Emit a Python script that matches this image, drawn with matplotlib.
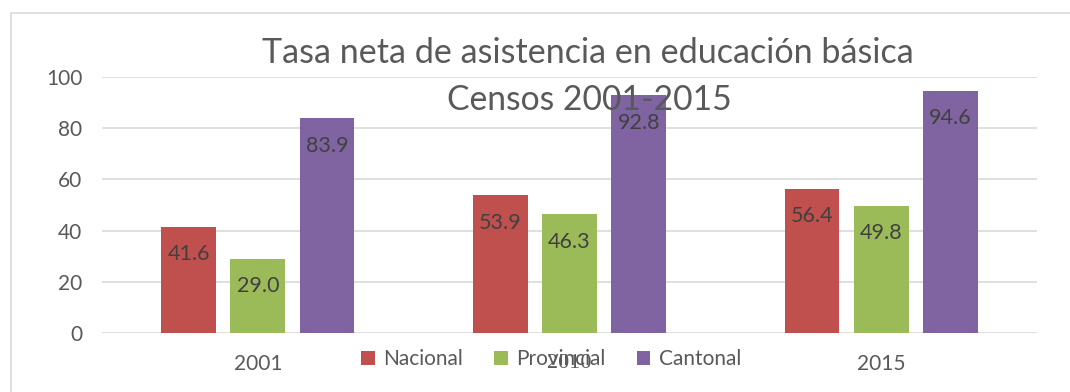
import matplotlib.pyplot as plt
import numpy as np
from matplotlib.patches import Rectangle

# census years and attendance rates per level
years = ['2001', '2010', '2015']
nacional = [41.6, 53.9, 56.4]
provincial = [29.0, 46.3, 49.8]
cantonal = [83.9, 92.8, 94.6]

series = [('Nacional', nacional, '#C0504D'),
          ('Provincial', provincial, '#9BBB59'),
          ('Cantonal', cantonal, '#8064A2')]

plt.rcParams['font.family'] = ['Lato', 'DejaVu Sans']
txt = '#595959'

fig = plt.figure(figsize=(10.7, 3.92), dpi=100)
ax = fig.add_axes([0.0953, 0.1505, 0.8739, 0.6531])

# outer chart border
fig.patches.append(Rectangle((10.5 / 1070, -0.1), 1.2, 1 - 12.5 / 392 + 0.1,
                             transform=fig.transFigure, fill=False,
                             edgecolor='#d9d9d9', linewidth=1.2))

x = np.arange(len(years))
w = 0.176
step = 0.222
handles = []
for i, (name, vals, color) in enumerate(series):
    bars = ax.bar(x + (i - 1) * step, vals, w, color=color, zorder=2, label=name)
    ax.bar_label(bars, fmt='%.1f', padding=-27, fontsize=15.5, color='#404040')
    handles.append(bars)

ax.set_xlim(-0.5, 2.5)
ax.set_ylim(0, 100)
ax.set_yticks(range(0, 101, 20))
ax.yaxis.grid(True, color='#d9d9d9', linewidth=1.2, zorder=0)
ax.set_axisbelow(True)
for s in ax.spines.values():
    s.set_visible(False)
ax.tick_params(length=0, labelsize=15, labelcolor=txt)
ax.tick_params(axis='y', pad=14)
ax.tick_params(axis='x', pad=15)
ax.set_xticks(x)
ax.set_xticklabels(years)
ax.get_xticklabels()[1].set_fontfamily('Liberation Serif')
ax.get_xticklabels()[1].set_fontsize(16)

fig.text(0.5495, 1 - 63 / 392, 'Tasa neta de asistencia en educación básica',
         ha='center', va='baseline', fontsize=24.6, color=txt, zorder=5)
fig.text(0.5505, 1 - 110 / 392, 'Censos 2001-2015',
         ha='center', va='baseline', fontsize=24.2, color=txt, zorder=5)

fig.legend(handles=handles, loc='center', bbox_to_anchor=(551 / 1070, 1 - 359 / 392),
           ncol=3, frameon=False, fontsize=15, labelcolor=txt,
           handlelength=0.65, handleheight=0.65, handletextpad=0.4,
           columnspacing=1.5)

fig.savefig('out.png', dpi=100)
